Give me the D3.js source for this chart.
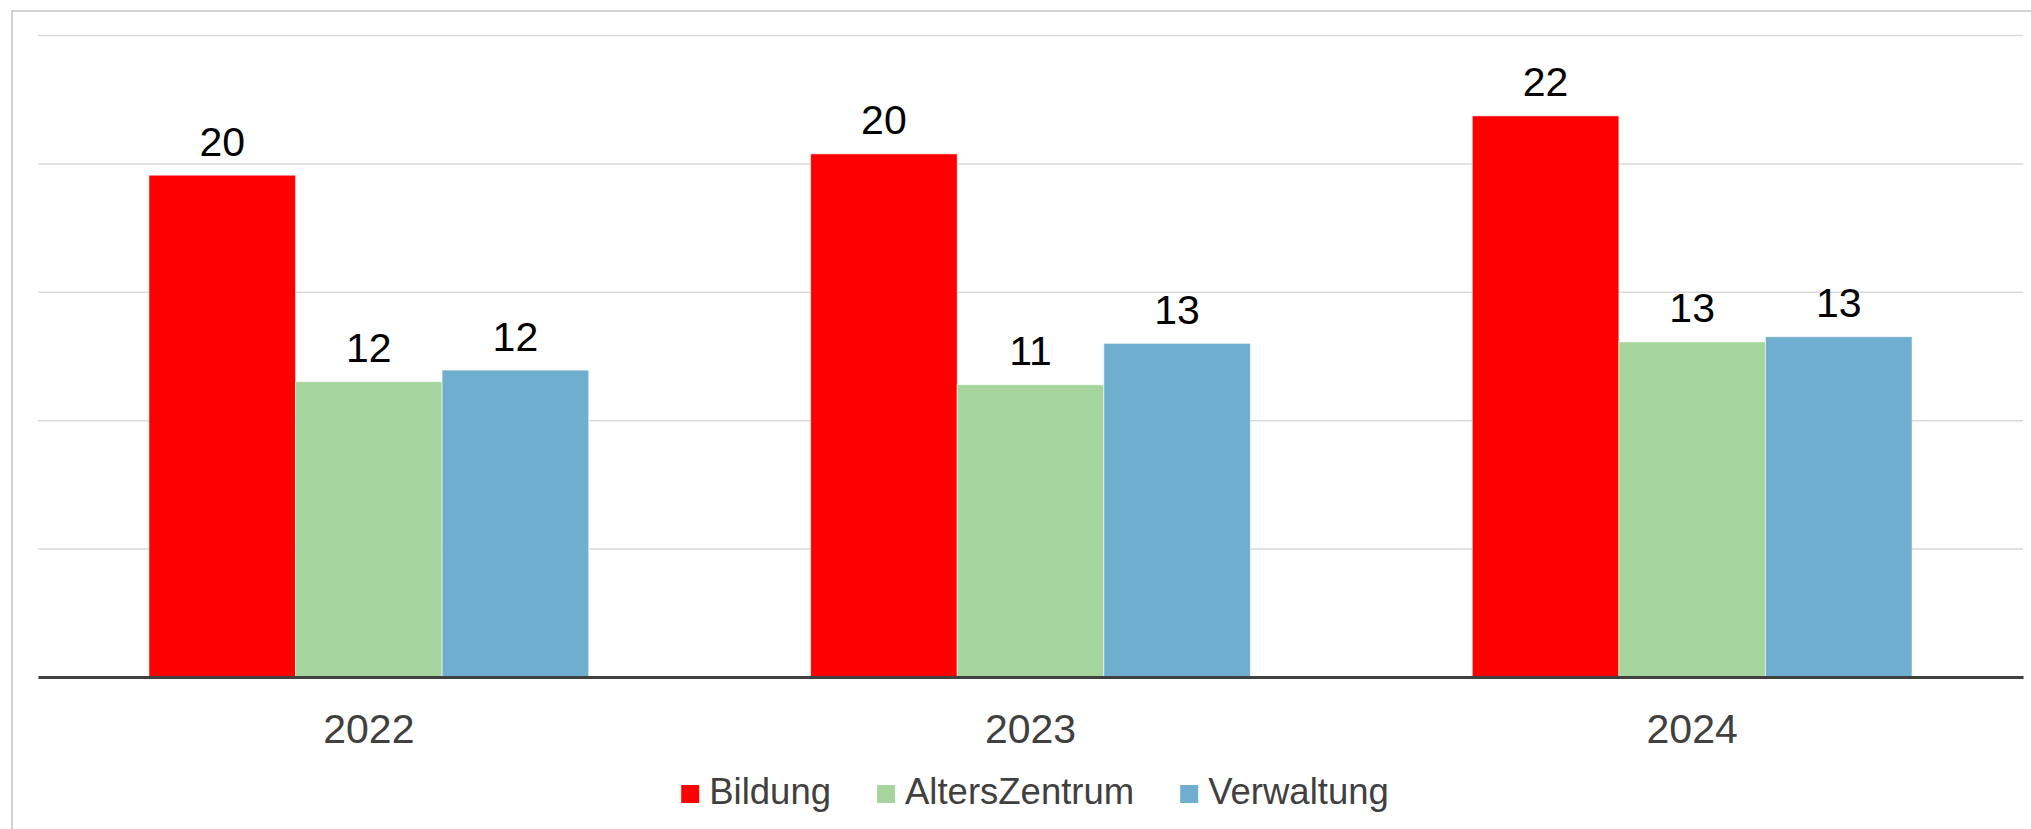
<!DOCTYPE html>
<html>
<head>
<meta charset="utf-8">
<script src="https://cdn.jsdelivr.net/npm/d3@7"></script>
<style>
  body { margin: 0; background: #fff; }
  text { font-family: "Liberation Sans", Arial, sans-serif; }
</style>
</head>
<body>
<div class="chart"></div>
<script>
// chart data
var years = ["2022", "2023", "2024"];
var seriesNames = ["Bildung", "AltersZentrum", "Verwaltung"];
var bildung = [19.54, 20.37, 21.85];
var altersZentrum = [11.5, 11.38, 13.05];
var verwaltung = [11.95, 12.99, 13.25];
var gridTicks = [0, 5, 10, 15, 20, 25];

var colors = ["#ff0000", "#a5d49c", "#70aecf"];

var svgWidth = 2031;
var svgHeight = 829;

var margin = { top: 35, right: 8, bottom: 152, left: 38 };
var width = svgWidth - margin.left - margin.right;
var height = svgHeight - margin.top - margin.bottom;

// build rows for each year
var tableData = years.map(function (y, i) {
  return {
    year: y,
    values: [bildung[i], altersZentrum[i], verwaltung[i]]
  };
});

var svg = d3.select(".chart")
  .append("svg")
  .attr("width", svgWidth)
  .attr("height", svgHeight);

// outer border (runs off the right and bottom of the picture)
svg.append("rect")
  .attr("x", 12)
  .attr("y", 11)
  .attr("width", svgWidth + 50)
  .attr("height", svgHeight + 50)
  .attr("fill", "none")
  .attr("stroke", "#c4c4c4")
  .attr("stroke-width", 1.5);

var chartGroup = svg.append("g")
  .attr("transform", `translate(${margin.left}, ${margin.top})`);

// scales
var x0 = d3.scaleBand()
  .domain(years)
  .range([0, width])
  .paddingInner(0)
  .paddingOuter(0);

var x1 = d3.scaleBand()
  .domain(seriesNames)
  .range([0, x0.bandwidth()])
  .paddingInner(0)
  .paddingOuter(0.757);

var y = d3.scaleLinear()
  .domain([0, 25])
  .range([height, 0]);

// gridlines (no tick labels)
var gridAxis = d3.axisLeft(y)
  .tickValues(gridTicks.slice(1))
  .tickSize(-width)
  .tickFormat("");

chartGroup.append("g")
  .attr("class", "grid")
  .call(gridAxis)
  .call(g => g.select(".domain").remove())
  .call(g => g.selectAll("line")
    .attr("stroke", "#d9d9d9")
    .attr("stroke-width", 1.5));

// bars
var groups = chartGroup.selectAll(".year")
  .data(tableData)
  .enter()
  .append("g")
  .attr("class", "year")
  .attr("transform", d => `translate(${x0(d.year)}, 0)`);

groups.selectAll("rect")
  .data(d => d.values.map((v, i) => ({ name: seriesNames[i], value: v, idx: i })))
  .enter()
  .append("rect")
  .attr("x", d => x1(d.name))
  .attr("y", d => y(d.value))
  .attr("width", x1.bandwidth())
  .attr("height", d => height - y(d.value))
  .attr("fill", d => colors[d.idx])
  .attr("stroke", "#ffffff")
  .attr("stroke-opacity", 0.55)
  .attr("stroke-width", 1);

// value labels
groups.selectAll(".valueLabel")
  .data(d => d.values.map((v, i) => ({ name: seriesNames[i], value: v })))
  .enter()
  .append("text")
  .attr("class", "valueLabel")
  .attr("x", d => x1(d.name) + x1.bandwidth() / 2)
  .attr("y", d => y(d.value) - 19.5)
  .attr("text-anchor", "middle")
  .attr("font-size", "41px")
  .attr("fill", "#000")
  .text(d => Math.round(d.value));

// x axis
var bottomAxis = d3.axisBottom(x0).tickSize(0).tickPadding(0);

var xAxisG = chartGroup.append("g")
  .attr("transform", `translate(0, ${height})`)
  .call(bottomAxis);

xAxisG.select(".domain")
  .attr("stroke", "#404040")
  .attr("stroke-width", 3);

xAxisG.selectAll("text")
  .attr("font-family", "\"Liberation Sans\", Arial, sans-serif")
  .attr("font-size", "41px")
  .attr("fill", "#404040")
  .attr("dy", null)
  .attr("y", 65.5);

// legend
var legend = svg.append("g")
  .attr("class", "legend");

var items = legend.selectAll(".item")
  .data(seriesNames)
  .enter()
  .append("g")
  .attr("class", "item");

items.append("rect")
  .attr("width", 18)
  .attr("height", 18)
  .attr("y", 785)
  .attr("fill", (d, i) => colors[i]);

items.append("text")
  .attr("x", 28)
  .attr("y", 804)
  .attr("font-size", "36.5px")
  .attr("fill", "#404040")
  .text(d => d);

// lay out legend items side by side, centered
var offset = 0;
var offsets = [];
items.each(function () {
  offsets.push(offset);
  var w = 28 + d3.select(this).select("text").node().getComputedTextLength();
  offset += w + 46;
});
var totalWidth = offset - 46;
var startX = 1035 - totalWidth / 2;
items.attr("transform", (d, i) => `translate(${startX + offsets[i]}, 0)`);
</script>
</body>
</html>
